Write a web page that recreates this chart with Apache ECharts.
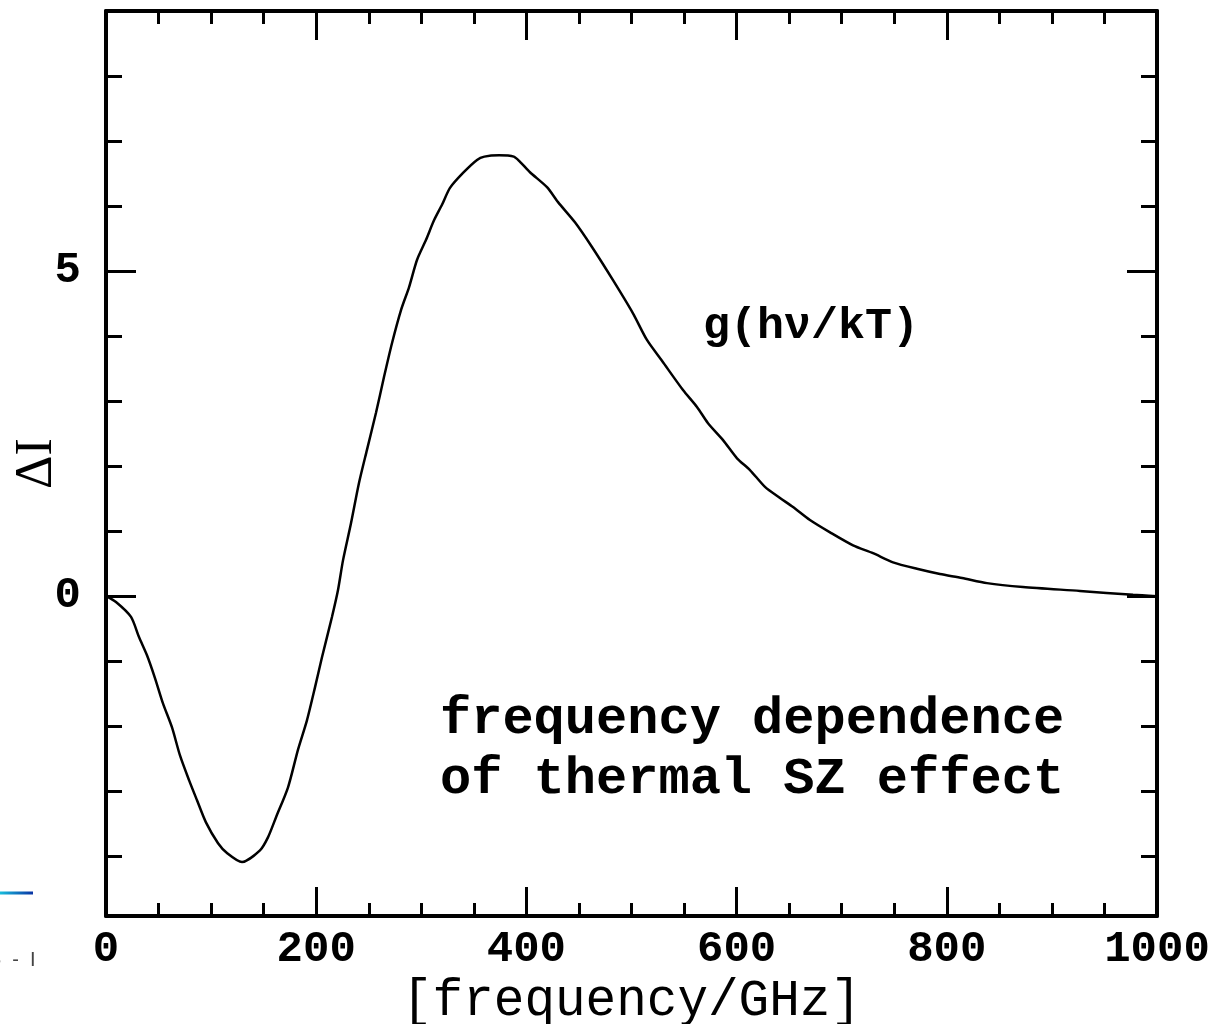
<!DOCTYPE html>
<html>
<head>
<meta charset="utf-8">
<script src="https://cdn.jsdelivr.net/npm/echarts@6/dist/echarts.min.js"></script>
<style>
html,body{margin:0;padding:0;background:#fff;}
#chart{width:1209px;height:1024px;}
</style>
</head>
<body>
<div id="chart"></div>
<script>
// ---- data ----
const freq = [0, 9.5, 23.8, 31.4, 39.0, 46.6, 54.2, 62.8, 70.4, 79.0, 86.6, 95.1, 106.6, 115.1, 129.4, 146.5, 154.1, 161.8, 173.2, 182.7, 191.2, 198.9, 205.5, 215.0, 220.7, 225.5, 233.1, 240.7, 248.3, 256.9, 264.5, 272.1, 280.7, 288.3, 295.9, 304.5, 312.1, 319.7, 327.3, 339.7, 353.0, 360.0, 374.0, 388.0, 393.9, 403.4, 419.6, 430.1, 446.2, 462.4, 482.4, 501.4, 514.7, 529.0, 549.0, 562.3, 572.8, 587.1, 600.4, 612.7, 627.0, 641.3, 653.7, 669.8, 688.9, 710.8, 729.8, 748.8, 771.6, 793.5, 814.5, 838.2, 872.5, 926.7, 977.2, 1000];
const deltaI = [0, -0.09, -0.32, -0.63, -0.91, -1.26, -1.65, -2.02, -2.45, -2.83, -3.14, -3.48, -3.80, -3.95, -4.09, -3.91, -3.71, -3.40, -2.94, -2.36, -1.91, -1.40, -0.94, -0.32, 0.09, 0.55, 1.12, 1.74, 2.25, 2.82, 3.37, 3.89, 4.40, 4.75, 5.17, 5.48, 5.78, 6.02, 6.28, 6.51, 6.71, 6.76, 6.78, 6.76, 6.68, 6.52, 6.29, 6.06, 5.75, 5.37, 4.86, 4.35, 3.94, 3.62, 3.17, 2.91, 2.66, 2.40, 2.12, 1.94, 1.68, 1.51, 1.37, 1.17, 0.98, 0.78, 0.66, 0.52, 0.42, 0.34, 0.28, 0.20, 0.14, 0.08, 0.02, 0.00];
const xTickLabels = [0, 200, 400, 600, 800, 1000];
const yMajorTicks = [0, 5];
const yMinorTicks = [-4, -3, -2, -1, 0, 1, 2, 3, 4, 5, 6, 7, 8, 9];
const curveLabel = 'g(hν/kT)';
const noteLines = ['frequency dependence', 'of thermal SZ effect'];
const xTitle = '[frequency/GHz]';
const yTitle = 'ΔI';
const cornerText = '5  -  I';

const Y_MIN = -4.92, Y_MAX = 9;
const MONO = '"Liberation Mono", "DejaVu Sans Mono", monospace';
const SERIF = '"Liberation Serif", "DejaVu Serif", serif';
const BLACK = '#000';

const chart = echarts.init(document.getElementById('chart'), null, {renderer: 'canvas'});

const lineStyle = {color: BLACK, width: 4};
function xAxisDef(pos, showLabel) {
  return {
    type: 'value', position: pos, min: 0, max: 1000, interval: 200,
    axisLine: {show: true, onZero: false, lineStyle: lineStyle},
    axisTick: {show: true, inside: true, length: 29, lineStyle: {color: BLACK, width: 3}},
    minorTick: {show: true, splitNumber: 4, length: 13, lineStyle: {color: BLACK, width: 3}},
    splitLine: {show: false},
    axisLabel: {
      show: showLabel, margin: 12, color: BLACK, fontFamily: MONO, fontWeight: 'bold', fontSize: 44,
      customValues: xTickLabels, formatter: v => String(v)
    },
    name: showLabel ? xTitle : '',
    nameLocation: 'middle', nameGap: 60, nameMoveOverlap: false,
    nameTextStyle: {fontFamily: MONO, fontSize: 51, color: BLACK}
  };
}
function yAxisDef(pos, ticks, len, showLine, showLabel, withName) {
  return {
    type: 'value', position: pos, min: Y_MIN, max: Y_MAX,
    axisLine: {show: showLine, onZero: false, lineStyle: lineStyle},
    axisTick: {show: true, inside: true, length: len, customValues: ticks, lineStyle: {color: BLACK, width: 3}},
    splitLine: {show: false},
    axisLabel: {
      show: showLabel, margin: 25, color: BLACK, fontFamily: MONO, fontWeight: 'bold', fontSize: 44,
      customValues: yMajorTicks, formatter: v => String(v)
    },
    name: withName ? yTitle : '',
    nameLocation: 'middle', nameRotate: 90, nameGap: 43, nameMoveOverlap: false,
    nameTextStyle: {fontFamily: SERIF, fontSize: 52, color: BLACK}
  };
}

const option = {
  backgroundColor: '#fff',
  animation: false,
  grid: {left: 106, right: 52, top: 11, bottom: 108, containLabel: false, outerBoundsMode: 'none'},
  xAxis: [xAxisDef('bottom', true), xAxisDef('top', false)],
  yAxis: [
    yAxisDef('left', yMajorTicks, 30, true, true, true),
    yAxisDef('left', yMinorTicks, 16, false, false, false),
    yAxisDef('right', yMajorTicks, 30, true, false, false),
    yAxisDef('right', yMinorTicks, 16, false, false, false)
  ],
  series: [{
    type: 'line',
    xAxisIndex: 0, yAxisIndex: 0,
    data: freq.map((f, i) => [f, deltaI[i]]),
    showSymbol: false,
    smooth: 0.25,
    lineStyle: {color: BLACK, width: 2.5},
    silent: true
  }],
  graphic: [
    {type: 'text', left: 703, top: 304, style: {text: curveLabel, font: 'bold 45px ' + MONO, fill: BLACK}},
    {type: 'text', left: 440, top: 690, style: {text: noteLines.join('\n'), font: 'bold 52px ' + MONO, lineHeight: 60, fill: BLACK}},
    {type: 'line', shape: {x1: 0, y1: 893, x2: 33, y2: 893},
     style: {lineWidth: 3, stroke: new echarts.graphic.LinearGradient(0, 0, 1, 0, [{offset: 0, color: '#18c8e0'}, {offset: 1, color: '#0828a0'}])}},
    {type: 'text', left: -10, top: 950, style: {text: cornerText, font: '20px "Liberation Sans", sans-serif', fill: '#444'}}
  ]
};
chart.setOption(option);
</script>
</body>
</html>
